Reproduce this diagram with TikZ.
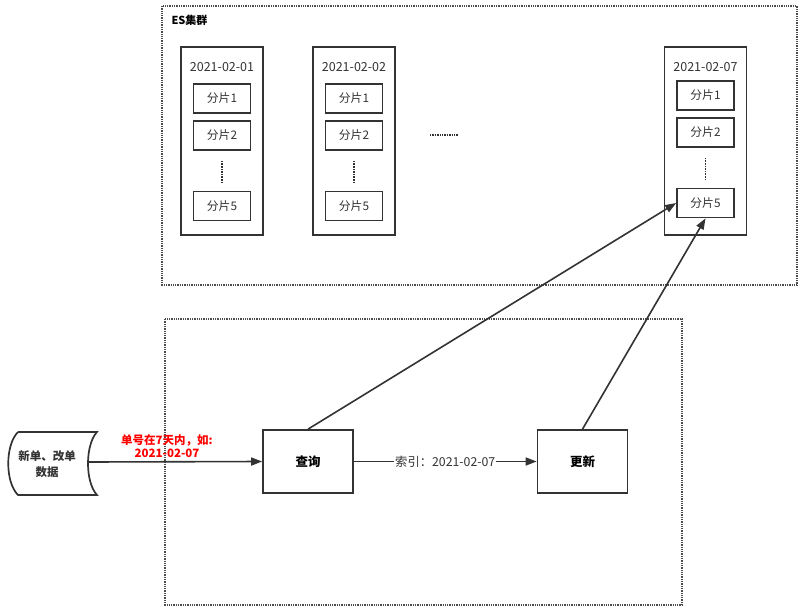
\documentclass[tikz,border=0pt]{standalone}
\usepackage{fontspec}
\setmainfont{Noto Sans CJK SC}
\usetikzlibrary{arrows.meta,positioning}
\definecolor{linegray}{HTML}{333333}
\definecolor{boxred}{HTML}{FF0000}
\begin{document}
\begin{tikzpicture}[x=1pt,y=-1pt,
    dayframe/.style={draw=linegray, line width=1.7pt, minimum width=82pt, minimum height=188pt},
    shard/.style={draw=linegray, line width=1.7pt, minimum width=57pt, minimum height=29pt,
      text=linegray, font=\fontsize{11.8}{13}\selectfont},
    procbox/.style={draw=linegray, line width=1.7pt, minimum width=90pt, minimum height=63pt,
      text=black, font=\bfseries\fontsize{12.5}{14}\selectfont},
    flow/.style={draw=linegray, line width=1.6pt, -{Triangle[length=11pt,width=8pt]}},
    group/.style={draw=gray!60!black, densely dotted, line width=1.3pt}]
    \useasboundingbox (0,0) rectangle (805,610);
    % 分组框
    \draw[group] (162,6) rectangle (797,285);
    \draw[group] (165,319) rectangle (682,605);
    \node[anchor=west, font=\bfseries\fontsize{11}{12}\selectfont] (es) at (168,20) {ES集群};
    % 每天的索引和分片
    \foreach \n/\x/\d/\dy in {d1/222/01/0, d2/354/02/0, d3/705.5/07/-3}{
        \node[dayframe] (\n) at (\x,141) {};
        \node[text=linegray, font=\fontsize{12.5}{14}\selectfont] (\n t) at (\x,67) {2021-02-\d};
        \node[shard] (\n s1) at (\x,98.5+\dy) {分片1};
        \node[shard] (\n s2) at (\x,135.5+\dy) {分片2};
        \node[shard] (\n s5) at (\x,206+\dy) {分片5};
        \draw[linegray, densely dotted, line width=1.6pt, shorten <=10pt, shorten >=8pt] (\n s2) -- (\n s5);
    }
    \draw[linegray, densely dotted, line width=1.4pt] (430,135) -- (458,135);
    % 数据来源
    \node[align=center, text=linegray, font=\bfseries\fontsize{11.5}{15.5}\selectfont] (src) at (47,464) {新单、改单\\数据};
    \draw[linegray, line width=1.7pt] (18,432) -- (97,432) .. controls (85,445) and (85,482) .. (97,495)
        -- (18,495) .. controls (5,482) and (5,445) .. (18,432);
    \coordinate (srcout) at (89,462);
    % 查询和更新
    \node[procbox] (query) at (308,461.5) {查询};
    \node[procbox] (update) at (582.5,461.5) {更新};
    % 连线
    \draw[flow] (srcout) -- (query.west);
    \node[align=center, text=boxred, font=\bfseries\fontsize{11.5}{13.5}\selectfont] (cond) at (167,446)
        {单号在7天内，如:\\2021-02-07};
    \draw[flow] (query) -- node[fill=white, inner sep=1pt, text=linegray, font=\fontsize{12.3}{14}\selectfont] {索引：2021-02-07} (update);
    \draw[flow] (query.north) -- (d3s5.west);
    \draw[flow] (update.north) -- (d3s5.south);
\end{tikzpicture}
\end{document}
